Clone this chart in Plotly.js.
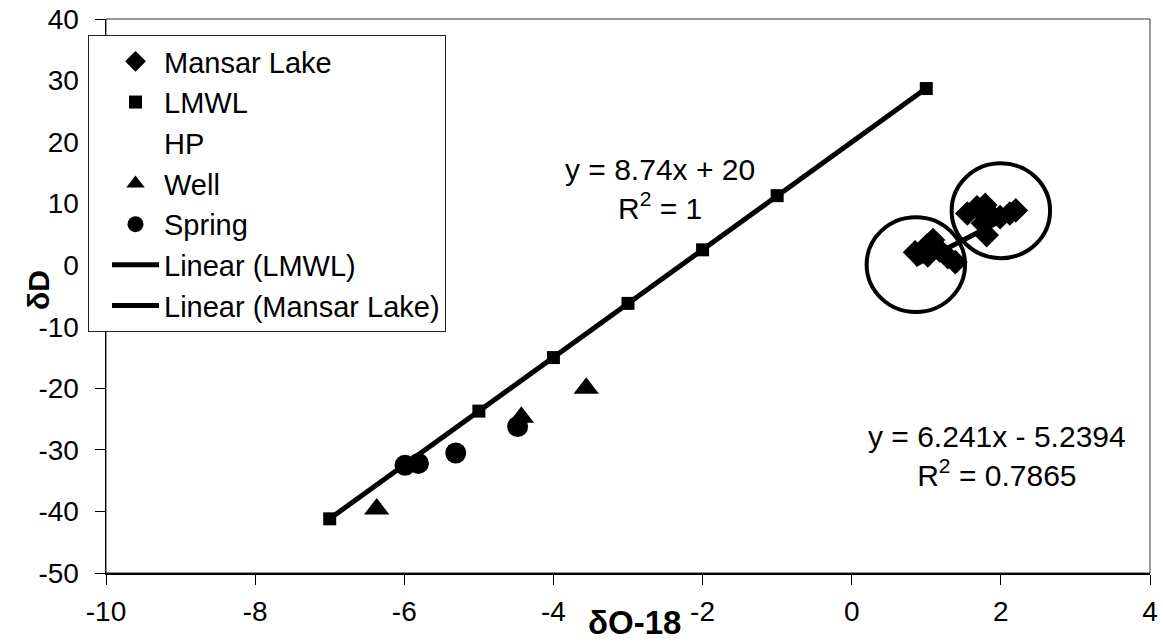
<!DOCTYPE html>
<html>
<head>
<meta charset="utf-8">
<script src="https://cdn.plot.ly/plotly-3.0.1.min.js"></script>
<style>
  html, body { margin: 0; padding: 0; background: #fff; }
  #chart { width: 1163px; height: 642px; }
</style>
</head>
<body>
<div id="chart"></div>
<script>
// Stable isotope data: δO-18 (x) against δD (y)
const mansarX = [0.85, 1.01, 1.09, 1.02, 1.18, 1.29, 1.39, 1.55, 1.68, 1.79, 1.85, 1.76, 1.81, 1.99, 2.12, 2.20];
const mansarY = [2.1, 3.2, 4.1, 1.6, 2.4, 1.3, 0.5, 8.4, 9.4, 9.8, 8.4, 6.8, 4.9, 7.8, 8.4, 8.9];

const lmwlX = [-7, -6, -5, -4, -3, -2, -1, 1];
const lmwlY = [-41.2, -32.4, -23.7, -15.0, -6.2, 2.5, 11.3, 28.7];

// HP series has no plotted samples; it only keeps its legend entry
const hpX = [null];
const hpY = [null];

const wellX = [-6.37, -4.43, -3.56];
const wellY = [-39.6, -24.7, -20.0];

const springX = [-5.99, -5.81, -5.31, -4.48];
const springY = [-32.5, -32.2, -30.5, -26.2];

// Linear fits reported on the chart
const lmwlSlope = 8.74, lmwlIntercept = 20, lmwlR2 = 1;
const lakeSlope = 6.241, lakeIntercept = -5.2394, lakeR2 = 0.7865;

const xTicks = [-10, -8, -6, -4, -2, 0, 2, 4];
const yTicks = [-50, -40, -30, -20, -10, 0, 10, 20, 30, 40];

function fitLine(xs, slope, intercept) {
  const lo = Math.min(...xs), hi = Math.max(...xs);
  return { x: [lo, hi], y: [slope * lo + intercept, slope * hi + intercept] };
}
function eqText(slope, intercept, r2) {
  const sign = intercept < 0 ? ' - ' : ' + ';
  return 'y = ' + slope + 'x' + sign + Math.abs(intercept) + '<br>R<sup>2</sup> = ' + r2;
}

const lmwlFit = fitLine(lmwlX, lmwlSlope, lmwlIntercept);
const lakeFit = fitLine(mansarX, lakeSlope, lakeIntercept);

const FONT = '"Liberation Sans", Arial, sans-serif';

const traces = [
  { name: 'Mansar Lake', x: mansarX, y: mansarY, type: 'scatter', mode: 'markers', legendgroup: 'a',
    marker: { symbol: 'diamond', size: 19, color: '#000' } },
  { name: 'LMWL', x: lmwlX, y: lmwlY, type: 'scatter', mode: 'markers', legendgroup: 'b',
    marker: { symbol: 'square', size: 13, color: '#000' } },
  { name: 'HP', x: hpX, y: hpY, type: 'scatter', mode: 'markers', legendgroup: 'c',
    marker: { symbol: 'circle', size: 10, color: 'rgba(0,0,0,0)' } },
  { name: 'Well', x: wellX, y: wellY, type: 'scatter', mode: 'markers', legendgroup: 'd',
    marker: { symbol: 'triangle-up', size: 22, color: '#000' } },
  { name: 'Spring', x: springX, y: springY, type: 'scatter', mode: 'markers', legendgroup: 'e',
    marker: { symbol: 'circle', size: 21, color: '#000' } },
  { name: 'Linear (LMWL)', x: lmwlFit.x, y: lmwlFit.y, type: 'scatter', mode: 'lines', legendgroup: 'f',
    line: { color: '#000', width: 5 } },
  { name: 'Linear (Mansar Lake)', x: lakeFit.x, y: lakeFit.y, type: 'scatter', mode: 'lines', legendgroup: 'g',
    line: { color: '#000', width: 5 } }
];

// pixel helpers for placing free text relative to the plot area
const PL = 106, PR = 1150, PT = 19, PB = 573;
const px2paperX = p => (p - PL) / (PR - PL);
const px2paperY = p => (PB - p) / (PB - PT);

const layout = {
  width: 1163, height: 642,
  margin: { l: PL, r: 1163 - PR, t: PT, b: 642 - PB },
  paper_bgcolor: '#fff', plot_bgcolor: '#fff',
  font: { family: FONT, color: '#000', size: 28 },
  showlegend: true,
  legend: {
    x: px2paperX(88), y: px2paperY(35), xanchor: 'left', yanchor: 'top',
    bgcolor: '#fff', bordercolor: '#222', borderwidth: 1,
    font: { family: FONT, size: 29, color: '#000' },
    tracegroupgap: 0, itemsizing: 'trace', itemwidth: 47, indentation: 18
  },
  xaxis: {
    range: [-10, 4], tickvals: xTicks, ticktext: xTicks.map(String),
    showgrid: false, zeroline: false,
    showline: true, linecolor: '#000', linewidth: 1.5,
    ticks: 'outside', ticklen: 10, tickcolor: '#000', tickwidth: 1,
    tickfont: { family: FONT, size: 28, color: '#000' },
    ticklabelstandoff: 3
  },
  yaxis: {
    range: [-50, 40], tickvals: yTicks, ticktext: yTicks.map(String),
    showgrid: false, zeroline: false,
    showline: true, linecolor: '#000', linewidth: 1.5,
    ticks: 'outside', ticklen: 10, tickcolor: '#000', tickwidth: 1,
    tickfont: { family: FONT, size: 28, color: '#000' },
    ticklabelstandoff: 10
  },
  shapes: [
    // plot frame
    { type: 'rect', xref: 'paper', yref: 'paper', x0: 0, x1: 1, y0: 0, y1: 1,
      line: { color: '#333', width: 1 }, layer: 'below' },
    // highlighted lake clusters
    { type: 'circle', xref: 'x', yref: 'y', x0: 0.86 - 0.66, x1: 0.86 + 0.66, y0: 0.1 - 7.7, y1: 0.1 + 7.7,
      line: { color: '#000', width: 4 } },
    { type: 'circle', xref: 'x', yref: 'y', x0: 2.0 - 0.66, x1: 2.0 + 0.66, y0: 8.85 - 7.7, y1: 8.85 + 7.7,
      line: { color: '#000', width: 4 } }
  ],
  annotations: [
    { x: -2.57, y: 12.4, xref: 'x', yref: 'y', text: eqText(lmwlSlope, lmwlIntercept, lmwlR2),
      showarrow: false, align: 'center', xanchor: 'center', yanchor: 'middle',
      font: { family: FONT, size: 30, color: '#000' } },
    { x: 1.95, y: -31.0, xref: 'x', yref: 'y', text: eqText(lakeSlope, lakeIntercept, lakeR2),
      showarrow: false, align: 'center', xanchor: 'center', yanchor: 'middle',
      font: { family: FONT, size: 30, color: '#000' } },
    // axis titles
    { x: px2paperX(634), y: px2paperY(622), xref: 'paper', yref: 'paper', text: '<b>δO-18</b>',
      showarrow: false, xanchor: 'center', yanchor: 'middle',
      font: { family: FONT, size: 33, color: '#000' } },
    { x: px2paperX(38), y: px2paperY(290), xref: 'paper', yref: 'paper', text: '<b>δD</b>',
      showarrow: false, textangle: -90, xanchor: 'center', yanchor: 'middle',
      font: { family: FONT, size: 30, color: '#000' } }
  ]
};

Plotly.newPlot('chart', traces, layout, { displayModeBar: false, staticPlot: true });
</script>
</body>
</html>
